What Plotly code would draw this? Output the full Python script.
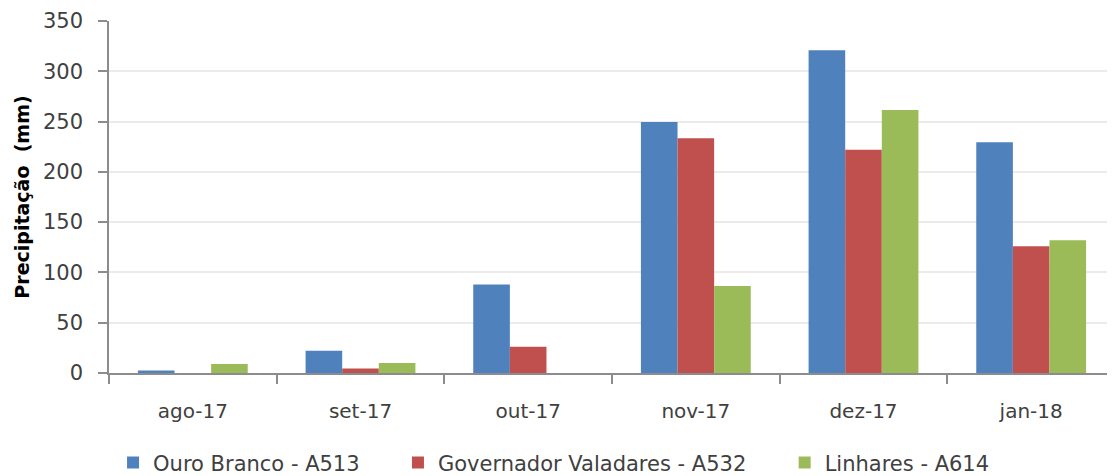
import plotly.graph_objects as go

categories = ["ago-17", "set-17", "out-17", "nov-17", "dez-17", "jan-18"]
ouro_branco = [2.5, 22, 88, 249.5, 321, 229.5]
gov_valadares = [0, 4.5, 26, 233.5, 222, 126]
linhares = [9, 10, 0, 86.5, 261.5, 132]

pad = "\u00a0" * 5
series = [
    ("Ouro Branco - A513" + pad, ouro_branco, "#4F81BD"),
    ("Governador Valadares - A532" + pad, gov_valadares, "#C0504D"),
    ("Linhares - A614", linhares, "#9BBB59"),
]

fig = go.Figure()
for name, vals, color in series:
    fig.add_trace(go.Bar(
        x=categories, y=vals, name=name,
        marker=dict(color=color, line=dict(width=0)),
    ))

font_family = "DejaVu Sans, Verdana, sans-serif"
fig.update_layout(
    width=1107, height=468,
    margin=dict(l=101, r=0, t=13, b=103),
    paper_bgcolor="white", plot_bgcolor="white",
    barmode="group", bargap=0.345, bargroupgap=0,
    font=dict(family=font_family, size=20, color="#404040"),
    showlegend=True,
    legend=dict(orientation="h", xref="container", x=0.0949, xanchor="left",
                yref="container", y=0.028, yanchor="middle",
                font=dict(size=21, color="#404040"), itemwidth=30, traceorder="normal"),
    xaxis=dict(
        showline=True, linecolor="#8C8C8C", linewidth=1.5,
        ticks="outside", ticklen=9, tickcolor="#8C8C8C", tickwidth=1.5,
        tickson="boundaries", showgrid=False,
        ticklabelstandoff=19, automargin=False,
        tickfont=dict(size=20, color="#404040"),
    ),
    yaxis=dict(
        range=[0, 350], tickvals=[0, 50, 100, 150, 200, 250, 300, 350],
        showline=True, linecolor="#8C8C8C", linewidth=1.5,
        ticks="outside", ticklen=9, tickcolor="#8C8C8C", tickwidth=1.5,
        showgrid=True, gridcolor="#EBEBEB", gridwidth=1.5,
        zeroline=False, automargin=False,
        ticklabelstandoff=11,
        tickfont=dict(size=21, color="#404040"),
        title=dict(text="<b>Precipitação\u00a0 (mm)</b>", font=dict(size=19, color="#000000"), standoff=8),
    ),
)

fig.write_html("out.html")
